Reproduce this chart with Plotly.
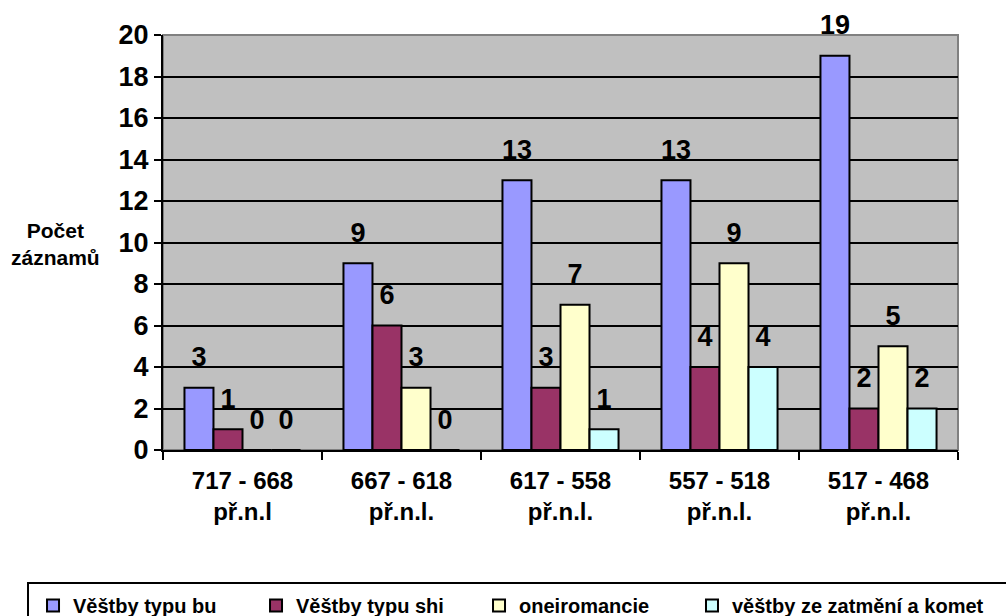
import plotly.graph_objects as go

categories = ["717 - 668<br>př.n.l", "667 - 618<br>př.n.l.", "617 - 558<br>př.n.l.",
              "557 - 518<br>př.n.l.", "517 - 468<br>př.n.l."]
series_names = ["Věštby typu bu", "Věštby typu shi", "oneiromancie", "věštby ze zatmění a komet"]
bu = [3, 9, 13, 13, 19]
shi = [1, 6, 3, 4, 2]
oneiro = [0, 3, 7, 9, 5]
zatmeni = [0, 0, 1, 4, 2]
colors = ["#9999FF", "#993366", "#FFFFCC", "#CCFFFF"]
yticks = list(range(0, 21, 2))

series = [bu, shi, oneiro, zatmeni]
FONT = "Liberation Sans, Arial, sans-serif"

fig = go.Figure()
for i, (name, vals, col) in enumerate(zip(series_names, series, colors)):
    fig.add_trace(go.Bar(
        x=categories, y=vals, name=name, offsetgroup=str(i),
        marker=dict(color=col, line=dict(color="black", width=2)),
        cliponaxis=False, legend="legend" if i < 3 else "legend2",
    ))
for i, vals in enumerate(series):
    fig.add_trace(go.Scatter(
        x=categories, y=vals, mode="markers+text", text=[str(v) for v in vals],
        textposition="top center", offsetgroup=str(i), showlegend=False,
        marker=dict(size=22, opacity=0),
        textfont=dict(family=FONT, size=27, color="black", weight="bold"),
        cliponaxis=False, hoverinfo="skip",
    ))

legend_font = dict(family=FONT, size=20, color="black", weight="bold")
fig.update_layout(
    width=1006, height=616,
    margin=dict(l=163, r=48, t=35, b=166, autoexpand=False),
    paper_bgcolor="white", plot_bgcolor="#C0C0C0",
    barmode="group", scattermode="group", bargap=0.27, bargroupgap=0, scattergap=0.27,
    showlegend=True,
    legend=dict(orientation="h", x=-0.1635, xanchor="left", y=-0.328, yanchor="top",
                borderwidth=0, bgcolor="rgba(0,0,0,0)", font=legend_font,
                entrywidth=178, entrywidthmode="pixels", traceorder="normal"),
    legend2=dict(orientation="h", x=0.6654, xanchor="left", y=-0.328, yanchor="top",
                 borderwidth=0, bgcolor="rgba(0,0,0,0)", font=legend_font),
    font=dict(family=FONT, color="black"),
)
fig.update_yaxes(range=[0, 20], tickvals=yticks, showgrid=True, gridcolor="black", gridwidth=2,
                 showline=True, linecolor="black", linewidth=2, ticks="outside", ticklen=7,
                 tickwidth=2, tickcolor="black", zeroline=False,
                 tickfont=dict(family=FONT, size=27, color="black", weight="bold"))
fig.update_xaxes(showline=True, linecolor="black", linewidth=2, ticks="outside",
                 tickson="boundaries", ticklen=8, tickwidth=2, tickcolor="black",
                 mirror=False, showgrid=False, ticklabelstandoff=8,
                 tickfont=dict(family=FONT, size=24, color="black", weight="bold"))
# plot area outline (top/right grey)
fig.add_shape(type="rect", xref="paper", yref="paper", x0=0, x1=1, y0=0, y1=1,
              line=dict(color="#808080", width=2), layer="below")
# legend frame
fig.add_shape(type="rect", xref="paper", yref="paper", x0=-0.1698, x1=1.07, y0=-0.3205, y1=-0.43,
              line=dict(color="black", width=2))
fig.add_annotation(text="Počet<br>záznamů", xref="paper", yref="paper", x=-0.135, y=0.496,
                   xanchor="center", yanchor="middle",
                   showarrow=False, font=dict(family=FONT, size=21, color="black", weight="bold"),
                   align="center")

fig.write_html("out.html")
